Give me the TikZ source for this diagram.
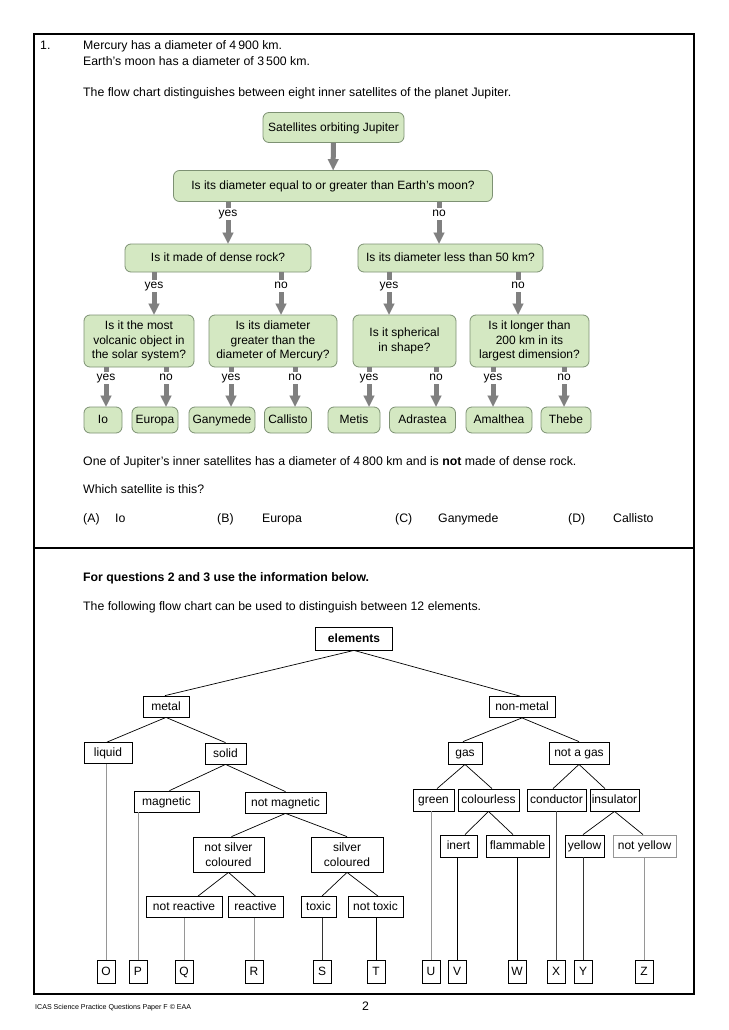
\documentclass[tikz,border=0pt]{standalone}
\usepackage{fontspec}
\setmainfont{Liberation Sans}
\usetikzlibrary{arrows.meta}
\definecolor{gfill}{RGB}{212,232,194}
\definecolor{gdraw}{RGB}{125,145,115}
\definecolor{arrgray}{RGB}{128,128,128}
\definecolor{lgray}{RGB}{150,150,150}
\begin{document}
\begin{tikzpicture}[x=1pt,y=-1pt,
  every node/.style={font=\fontsize{12}{14.5}\selectfont, inner sep=0pt},
  one/.style={text height=8.7pt, text depth=1.2pt},
  gbox/.style={draw=gdraw, fill=gfill, rounded corners=6pt, line width=0.8pt, align=center},
  gone/.style={gbox, one},
  lab/.style={inner sep=1.5pt, text height=7pt, text depth=2.5pt},
  stub/.style={draw=arrgray, line width=5pt},
  garrow/.style={draw=arrgray, line width=5pt, -{Triangle[width=11pt,length=11pt,line width=0.1pt]}},
  tbox/.style={draw, line width=0.8pt, fill=white, minimum height=21pt, one},
  tbox2/.style={draw, line width=0.8pt, fill=white, align=center},
  lbox/.style={draw, line width=0.8pt, fill=white, minimum height=23pt, minimum width=18pt, one},
  tline/.style={line width=0.7pt},
  vline/.style={line width=0.9pt},
  txt/.style={anchor=base west, font=\fontsize{12.3}{14.5}\selectfont},
]
\useasboundingbox (0,0) rectangle (728,1030);
\fill[white] (0,0) rectangle (728,1030);

% frame
\draw[line width=1.3pt] (34,34) rectangle (694,994);
\draw[line width=1.3pt] (34,548) -- (694,548);

% question 1 text
\node[txt] at (40,49.5) {1.};
\node[txt] at (83,49.5) {Mercury has a diameter of 4\,900 km.};
\node[txt] at (83,65.5) {Earth's moon has a diameter of 3\,500 km.};
\node[txt] at (83,96.5) {The flow chart distinguishes between eight inner satellites of the planet Jupiter.};

% flow chart 1
\node[gone, minimum width=141pt, minimum height=30pt] (sat) at (333.5,127.5) {Satellites orbiting Jupiter};
\node[gone, minimum width=319pt, minimum height=31pt] (q1) at (333,186) {Is its diameter equal to or greater than Earth's moon?};
\node[gone, minimum width=186pt, minimum height=28pt] (q2a) at (218,258) {Is it made of dense rock?};
\node[gone, minimum width=185pt, minimum height=28pt] (q2b) at (450.5,258) {Is its diameter less than 50 km?};
\node[gbox, minimum width=110pt, minimum height=52pt] (q3a) at (139,341) {Is it the most\\volcanic object in\\the solar system?};
\node[gbox, minimum width=128pt, minimum height=52pt] (q3b) at (273,341) {Is its diameter\\greater than the\\diameter of Mercury?};
\node[gbox, minimum width=103pt, minimum height=52pt] (q3c) at (404.5,341) {Is it spherical\\in shape?};
\node[gbox, minimum width=119pt, minimum height=52pt] (q3d) at (529.5,341) {Is it longer than\\200 km in its\\largest dimension?};

\node[gone, minimum width=38pt, minimum height=26pt] (io) at (103,420) {Io};
\node[gone, minimum width=46pt, minimum height=26pt] (eu) at (155,420) {Europa};
\node[gone, minimum width=66pt, minimum height=26pt] (ga) at (222,420) {Ganymede};
\node[gone, minimum width=47pt, minimum height=26pt] (ca) at (288,420) {Callisto};
\node[gone, minimum width=52pt, minimum height=26pt] (me) at (354,420) {Metis};
\node[gone, minimum width=66pt, minimum height=26pt] (ad) at (422.5,420) {Adrastea};
\node[gone, minimum width=66pt, minimum height=26pt] (am) at (499,420) {Amalthea};
\node[gone, minimum width=50pt, minimum height=26pt] (th) at (566,420) {Thebe};

% arrows level 1
\draw[garrow] (sat) -- (q1);
\node[lab] (y1) at (228,214) {yes};
\node[lab] (n1) at (439,214) {no};
\draw[stub] (q1.south -| y1) -- (y1.north);
\draw[garrow] (y1.south) -- (q2a.north -| y1);
\draw[stub] (q1.south -| n1) -- (n1.north);
\draw[garrow] (n1.south) -- (q2b.north -| n1);

% arrows level 2
\node[lab] (y2a) at (154,286) {yes};
\node[lab] (n2a) at (281,286) {no};
\node[lab] (y2b) at (389,286) {yes};
\node[lab] (n2b) at (518,286) {no};
\foreach \l/\p/\c in {y2a/q2a/q3a, n2a/q2a/q3b, y2b/q2b/q3c, n2b/q2b/q3d}{
  \draw[stub] (\p.south -| \l) -- (\l.north);
  \draw[garrow] (\l.south) -- (\c.north -| \l);
}

% arrows level 3
\node[lab] (y3a) at (106,378) {yes};
\node[lab] (n3a) at (166,378) {no};
\node[lab] (y3b) at (231,378) {yes};
\node[lab] (n3b) at (295,378) {no};
\node[lab] (y3c) at (369,378) {yes};
\node[lab] (n3c) at (436,378) {no};
\node[lab] (y3d) at (493,378) {yes};
\node[lab] (n3d) at (564,378) {no};
\foreach \l/\p/\c in {y3a/q3a/io, n3a/q3a/eu, y3b/q3b/ga, n3b/q3b/ca, y3c/q3c/me, n3c/q3c/ad, y3d/q3d/am, n3d/q3d/th}{
  \draw[stub] (\p.south -| \l) -- (\l.north);
  \draw[garrow] (\l.south) -- (\c.north -| \l);
}

% question text
\node[txt] at (83,465.5) {One of Jupiter's inner satellites has a diameter of 4\,800 km and is \textbf{not} made of dense rock.};
\node[txt] at (83,493.5) {Which satellite is this?};
\node[txt] at (83,522.5) {(A)};
\node[txt] at (115,522.5) {Io};
\node[txt] at (217,522.5) {(B)};
\node[txt] at (262,522.5) {Europa};
\node[txt] at (395,522.5) {(C)};
\node[txt] at (438,522.5) {Ganymede};
\node[txt] at (568,522.5) {(D)};
\node[txt] at (613,522.5) {Callisto};

% section 2 text
\node[txt] at (83,581.5) {\textbf{For questions 2 and 3 use the information below.}};
\node[txt] at (83,610.5) {The following flow chart can be used to distinguish between 12 elements.};

% elements tree
\node[tbox, minimum width=77pt, minimum height=23pt, font=\fontsize{12}{14.5}\selectfont\bfseries] (el) at (354,638.5) {elements};
\node[tbox, minimum width=46pt] (metal) at (166,706.5) {metal};
\node[tbox, minimum width=66pt] (nonmetal) at (522,707) {non-metal};
\node[tbox, minimum width=48pt] (liquid) at (108,753) {liquid};
\node[tbox, minimum width=41pt] (solid) at (225.5,753.5) {solid};
\node[tbox, minimum width=65pt] (magnetic) at (166.5,801.5) {magnetic};
\node[tbox, minimum width=81pt] (notmag) at (285.5,802.5) {not magnetic};
\node[tbox2, minimum width=71pt, minimum height=35pt] (notsilver) at (228.5,854.5) {not silver\\coloured};
\node[tbox2, minimum width=72pt, minimum height=35pt] (silver) at (347,854.5) {silver\\coloured};
\node[tbox, minimum width=76pt] (notreact) at (184,907) {not reactive};
\node[tbox, minimum width=55pt] (react) at (255.5,907) {reactive};
\node[tbox, minimum width=35pt] (toxic) at (318.5,907) {toxic};
\node[tbox, minimum width=55pt] (nottoxic) at (375.5,907) {not toxic};

\node[tbox, minimum width=34pt, minimum height=22pt] (gas) at (465,753) {gas};
\node[tbox, minimum width=60pt, minimum height=22pt] (notgas) at (579,753) {not a gas};
\node[tbox, minimum width=41pt, minimum height=22pt] (green) at (433.5,800) {green};
\node[tbox, minimum width=61pt, minimum height=22pt] (colourless) at (488.5,800) {colourless};
\node[tbox, minimum width=59pt, minimum height=22pt] (conductor) at (556.5,800) {conductor};
\node[tbox, minimum width=49pt, minimum height=22pt] (insulator) at (614.5,800) {insulator};
\node[tbox, minimum width=37pt, minimum height=22pt] (inert) at (458.5,846) {inert};
\node[tbox, minimum width=63pt, minimum height=22pt] (flam) at (517.5,846) {flammable};
\node[tbox, minimum width=39pt, minimum height=22pt] (yellow) at (584.5,846) {yellow};
\node[tbox, minimum width=63pt, minimum height=22pt, draw=lgray] (notyellow) at (644.5,846) {not yellow};

% tree edges
\draw[tline] (el.south) -- ([xshift=-1pt]metal.north);
\draw[tline] (el.south) -- ([xshift=-2pt]nonmetal.north);
\draw[tline] (metal.south) -- ([xshift=-1pt]liquid.north);
\draw[tline] (metal.south) -- (solid.north);
\draw[tline] (solid.south) -- ([xshift=3pt]magnetic.north);
\draw[tline] (solid.south) -- (notmag.north);
\draw[tline] (notmag.south) -- ([xshift=3pt]notsilver.north);
\draw[tline] (notmag.south) -- (silver.north);
\draw[tline] (notsilver.south) -- ([xshift=14pt]notreact.north);
\draw[tline] (notsilver.south) -- (react.north);
\draw[tline] (silver.south) -- ([xshift=3.5pt]toxic.north);
\draw[tline] (silver.south) -- ([xshift=2.5pt]nottoxic.north);
\draw[tline] (nonmetal.south) -- ([xshift=-2pt]gas.north);
\draw[tline] (nonmetal.south) -- (notgas.north);
\draw[tline] (gas.south) -- ([xshift=3.5pt]green.north);
\draw[tline] (gas.south) -- ([xshift=3.5pt]colourless.north);
\draw[tline] (notgas.south) -- ([xshift=-3.5pt]conductor.north);
\draw[tline] (notgas.south) -- ([xshift=-9.5pt]insulator.north);
\draw[tline] (colourless.south) -- ([xshift=6.5pt]inert.north);
\draw[tline] (colourless.south) -- ([xshift=-4.5pt]flam.north);
\draw[tline] (insulator.south) -- ([xshift=-1.5pt]yellow.north);
\draw[tline] (insulator.south) -- ([xshift=-1.5pt]notyellow.north);

% letter boxes
\node[lbox] (O) at (106,971.5) {O};
\node[lbox] (P) at (138,971.5) {P};
\node[lbox] (Q) at (184,971.5) {Q};
\node[lbox] (R) at (254,971.5) {R};
\node[lbox] (S) at (322,971.5) {S};
\node[lbox] (T) at (376,971.5) {T};
\node[lbox] (U) at (431,971.5) {U};
\node[lbox] (V) at (457,971.5) {V};
\node[lbox] (W) at (517,971.5) {W};
\node[lbox] (X) at (556,971.5) {X};
\node[lbox] (Y) at (583,971.5) {Y};
\node[lbox] (Z) at (644,971.5) {Z};

\draw[vline, draw=lgray] (liquid.south -| O) -- (O.north);
\draw[vline, draw=lgray] (magnetic.south -| P) -- (P.north);
\draw[vline, draw=lgray] (notreact.south -| Q) -- (Q.north);
\draw[vline, draw=lgray] (react.south -| R) -- (R.north);
\draw[vline, draw=black!80] (toxic.south -| S) -- (S.north);
\draw[vline] (nottoxic.south -| T) -- (T.north);
\draw[vline, draw=lgray] (green.south -| U) -- (U.north);
\draw[vline] (inert.south -| V) -- (V.north);
\draw[vline] (flam.south -| W) -- (W.north);
\draw[vline, draw=black!70] (conductor.south -| X) -- (X.north);
\draw[vline, draw=black!80] (yellow.south -| Y) -- (Y.north);
\draw[vline, draw=lgray] (notyellow.south -| Z) -- (Z.north);

% footer
\node[txt, font=\fontsize{7.1}{8}\selectfont] at (35,1009.5) {ICAS Science Practice Questions Paper F © EAA};
\node[txt] at (362,1010) {2};
\end{tikzpicture}
\end{document}
